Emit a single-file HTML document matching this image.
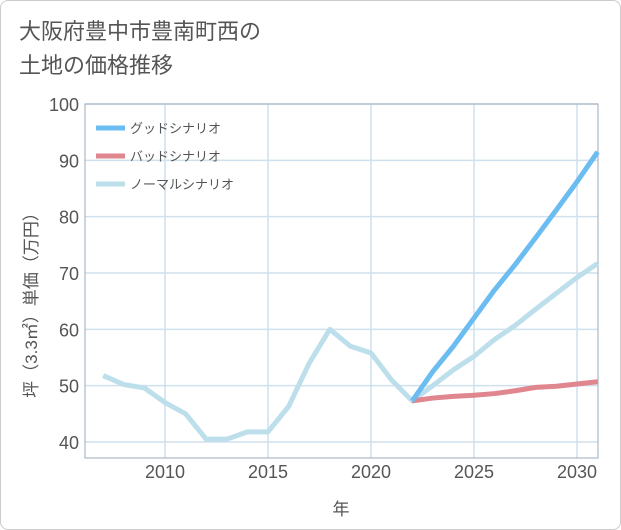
<!DOCTYPE html>
<html><head><meta charset="utf-8"><style>
body{margin:0;background:#fff;}
#wrap{position:relative;width:619px;height:528px;border:1px solid #ccc;border-radius:8px;background:#fff;font-family:"Liberation Sans","Noto Sans CJK JP",sans-serif;overflow:hidden}
#title{position:absolute;left:18px;top:14px;font-size:22px;line-height:34px;color:#555}
svg{position:absolute;left:0;top:0}
</style></head><body>
<div id="wrap">
<div id="title">大阪府豊中市豊南町西の<br>土地の価格推移</div>
<svg id="c" width="621" height="530"></svg>
</div>
<script>
const years=[2007,2008,2009,2010,2011,2012,2013,2014,2015,2016,2017,2018,2019,2020,2021,2022,2023,2024,2025,2026,2027,2028,2029,2030,2031];
const normalVals=[51.8,50.2,49.6,47,45,40.5,40.5,41.8,41.8,46.3,54,60,57,55.8,51,47.3,50,52.8,55.2,58.2,60.7,63.6,66.4,69.2,71.7];
const goodYears=[2022,2023,2024,2025,2026,2027,2028,2029,2030,2031];
const goodVals=[47.3,52.5,57,62,67,71.5,76.3,81.2,86.2,91.5];
const badVals=[47.3,47.8,48.1,48.3,48.6,49.1,49.7,49.9,50.3,50.7];
const xTicks=[2010,2015,2020,2025,2030];
const yTicks=[40,50,60,70,80,90,100];
const L=84,R=597,T=103,B=457;
const X=v=>164+(v-2010)*20.6;
const Y=v=>441-(v-40)*5.633;
const svg=document.getElementById('c');
const NS='http://www.w3.org/2000/svg';
function mk(t,a){const e=document.createElementNS(NS,t);for(const k in a)e.setAttribute(k,a[k]);svg.appendChild(e);return e;}
yTicks.forEach(v=>{const l=mk('line',{x1:L,x2:R,y1:Y(v),y2:Y(v),stroke:'#cfe0ee','stroke-width':1.5});


const t=mk('text',{x:L-6,y:Y(v)+7,'text-anchor':'end','font-size':18,fill:'#555'});t.textContent=v;

});
xTicks.forEach(v=>{const l=mk('line',{x1:X(v),x2:X(v),y1:T,y2:B,stroke:'#cfe0ee','stroke-width':1.5});


const t=mk('text',{x:X(v),y:477,'text-anchor':'middle','font-size':18,fill:'#555'});t.textContent=v;

});
const ax=mk('rect',{x:L,y:T,width:R-L,height:B-T,fill:'none',stroke:'#9ab','stroke-width':1});


function line(xs,vs,col,name){const p=mk('polyline',{points:xs.map((x,i)=>X(x)+','+Y(vs[i])).join(' '),fill:'none',stroke:col,'stroke-width':5,'stroke-linejoin':'round'});

}
line(years,normalVals,'#bcdfeb','normal-series');
line(goodYears,badVals,'#e0868f','bad-series');
line(goodYears,goodVals,'#6bbcf1','good-series');
const leg=[['グッドシナリオ','#6bbcf1'],['バッドシナリオ','#e0868f'],['ノーマルシナリオ','#bcdfeb']];
leg.forEach((d,i)=>{const y=127+i*28;const l=mk('line',{x1:95,x2:124,y1:y,y2:y,stroke:d[1],'stroke-width':5});


const t=mk('text',{x:129,y:y+5,'font-size':13,fill:'#555'});t.textContent=d[0];

});
const xt=mk('text',{x:340,y:514,'text-anchor':'middle','font-size':17,fill:'#555'});xt.textContent='年';


const yt=mk('text',{x:0,y:0,'text-anchor':'middle','font-size':17,fill:'#555',transform:'translate(36,300) rotate(-90)'});yt.textContent='坪（3.3㎡）単価（万円）';


</script>
</body></html>
